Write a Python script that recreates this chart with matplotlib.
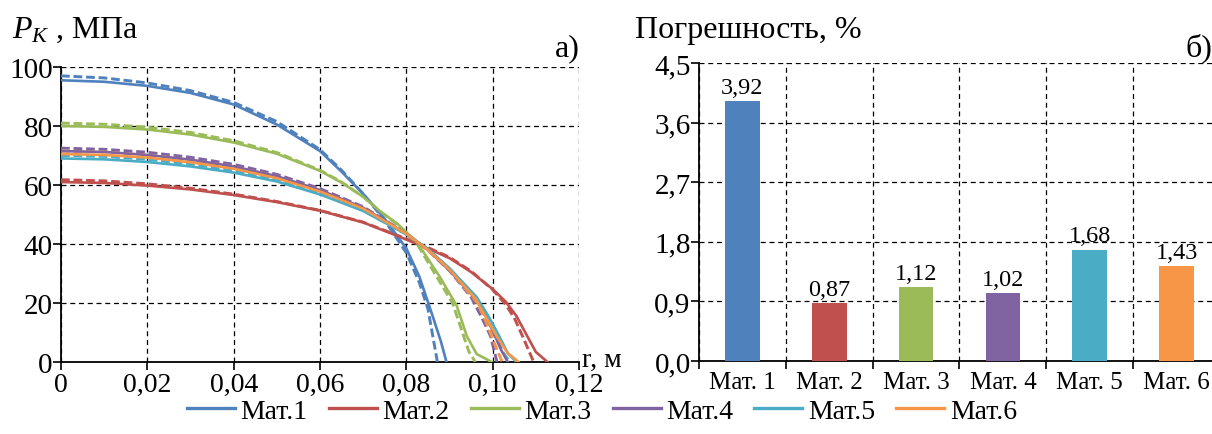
import matplotlib
matplotlib.use("Agg")
import matplotlib.pyplot as plt
from matplotlib.lines import Line2D

plt.rcParams['font.family'] = ['Liberation Serif', 'DejaVu Serif']
plt.rcParams['mathtext.fontset'] = 'custom'
plt.rcParams['mathtext.rm'] = 'Liberation Serif'
plt.rcParams['mathtext.it'] = 'Liberation Serif:italic'

# ---------------- data: contact pressure curves (solid = model, dashed = check) ----------
m1_r  = [0, 0.01, 0.02, 0.03, 0.04, 0.05, 0.06, 0.065, 0.07, 0.075, 0.08, 0.083, 0.086, 0.088, 0.0893]
m1_p  = [95.5, 95.0, 93.6, 91.2, 87.3, 80.5, 71.5, 64.5, 57, 48.5, 38.5, 29, 16, 7, 0]
m1d_r = [0, 0.01, 0.02, 0.03, 0.04, 0.05, 0.06, 0.065, 0.07, 0.075, 0.08, 0.083, 0.085, 0.0872]
m1d_p = [97, 96.3, 94.6, 92, 88, 81.5, 72, 65, 57, 48, 37, 27, 18, 0]

m2_r  = [0, 0.01, 0.02, 0.03, 0.04, 0.05, 0.06, 0.07, 0.078, 0.085, 0.09, 0.095, 0.10, 0.103, 0.1055, 0.108, 0.110, 0.1127]
m2_p  = [61, 60.7, 59.8, 58.5, 56.6, 54.2, 51.3, 47.3, 42.7, 38.5, 35.2, 30.5, 24.7, 20.5, 15.6, 8.8, 3.4, 0]
m2d_r = [0, 0.01, 0.02, 0.03, 0.04, 0.05, 0.06, 0.07, 0.078, 0.085, 0.09, 0.095, 0.10, 0.103, 0.105, 0.107, 0.1095]
m2d_p = [61.8, 61.4, 60.4, 58.9, 56.9, 54.4, 51.4, 47.4, 42.9, 38.8, 35.5, 30.8, 24.5, 19.5, 15.0, 8.5, 0]

m3_r  = [0, 0.01, 0.02, 0.03, 0.04, 0.05, 0.06, 0.065, 0.07, 0.074, 0.078, 0.0825, 0.0877, 0.0917, 0.094, 0.0963, 0.0998]
m3_p  = [80, 79.7, 78.8, 77.1, 74.4, 70.6, 64.8, 60.8, 56, 51, 46.8, 40.5, 29, 19, 8.8, 2.7, 0]
m3d_r = [0, 0.01, 0.02, 0.03, 0.04, 0.05, 0.06, 0.065, 0.07, 0.074, 0.078, 0.0825, 0.087, 0.0907, 0.093, 0.0945, 0.096]
m3d_p = [81, 80.6, 79.6, 77.8, 75, 71, 65, 61, 56, 51, 46.5, 40, 29, 20, 10, 3.5, 0]

m4_r  = [0, 0.01, 0.02, 0.03, 0.04, 0.05, 0.06, 0.07, 0.08, 0.085, 0.09, 0.0963, 0.0986, 0.1005, 0.102, 0.1035]
m4_p  = [71.5, 71.2, 70.2, 68.6, 66.3, 63, 58.3, 52.3, 43.5, 38, 31, 21, 15, 9, 4, 0]
m4d_r = [0, 0.01, 0.02, 0.03, 0.04, 0.05, 0.06, 0.07, 0.08, 0.085, 0.09, 0.095, 0.0975, 0.0995, 0.101]
m4d_p = [72.5, 72.1, 71.1, 69.4, 67, 63.6, 58.8, 52.6, 43.6, 38, 31, 22, 15, 8.8, 0]

m5_r  = [0, 0.01, 0.02, 0.03, 0.04, 0.05, 0.06, 0.07, 0.08, 0.085, 0.09, 0.0963, 0.099, 0.1015, 0.1035, 0.1055]
m5_p  = [69, 68.7, 67.8, 66.3, 64.2, 61.2, 56.8, 51.2, 43.3, 38.3, 31.8, 22, 15.6, 8.8, 3, 0]
m5d_r = [0, 0.01, 0.02, 0.03, 0.04, 0.05, 0.06, 0.07, 0.08, 0.085, 0.09, 0.0963, 0.0985, 0.1005, 0.1025, 0.104]
m5d_p = [70, 69.7, 68.7, 67.1, 64.9, 61.8, 57.2, 51.4, 43.3, 38.2, 31.5, 21.5, 15, 9, 3, 0]

m6_r  = [0, 0.01, 0.02, 0.03, 0.04, 0.05, 0.06, 0.07, 0.08, 0.085, 0.09, 0.096, 0.0985, 0.101, 0.1035, 0.106]
m6_p  = [70.5, 70.2, 69.3, 67.7, 65.5, 62.3, 57.8, 52, 43.5, 38, 31.3, 21.5, 15, 8.5, 3, 0]
m6d_r = [0, 0.01, 0.02, 0.03, 0.04, 0.05, 0.06, 0.07, 0.08, 0.085, 0.09, 0.0965, 0.0985, 0.1005, 0.1022]
m6d_p = [71.5, 71.2, 70.2, 68.5, 66.2, 62.9, 58.2, 52.2, 43.5, 37.8, 31, 20, 13.5, 6, 0]

series_labels = ['Мат.1', 'Мат.2', 'Мат.3', 'Мат.4', 'Мат.5', 'Мат.6']
colors = ['#4F81BD', '#C0504D', '#9BBB59', '#8064A2', '#4BACC6', '#F79646']

x_ticks = [0, 0.02, 0.04, 0.06, 0.08, 0.10, 0.12]
x_tick_labels = ['0', '0,02', '0,04', '0,06', '0,08', '0,10', '0,12']
y_ticks = [0, 20, 40, 60, 80, 100]

# ---------------- data: error bars ----------
bar_categories = ['Мат. 1', 'Мат. 2', 'Мат. 3', 'Мат. 4', 'Мат. 5', 'Мат. 6']
bar_values = [3.92, 0.87, 1.12, 1.02, 1.68, 1.43]
bar_labels = ['3,92', '0,87', '1,12', '1,02', '1,68', '1,43']
err_ticks = [0.0, 0.9, 1.8, 2.7, 3.6, 4.5]
err_tick_labels = ['0,0', '0,9', '1,8', '2,7', '3,6', '4,5']

W, H = 1212, 435
fig = plt.figure(figsize=(W / 100, H / 100), dpi=100)

grid_kw = dict(color='black', linestyle=(0, (4, 3)), linewidth=0.9)

# ---------------- left panel ----------
axl = fig.add_axes([61 / W, 1 - 363 / H, (579 - 61) / W, (363 - 68) / H])
solid = [(m1_r, m1_p), (m2_r, m2_p), (m3_r, m3_p), (m4_r, m4_p), (m5_r, m5_p), (m6_r, m6_p)]
dashed = [(m1d_r, m1d_p), (m2d_r, m2d_p), (m3d_r, m3d_p), (m4d_r, m4d_p), (m5d_r, m5d_p), (m6d_r, m6d_p)]
for (r, p), c in zip(dashed, colors):
    axl.plot(r, p, color=c, linewidth=2.1, linestyle=(0, (3.0, 1.3)), zorder=3)
for (r, p), c in zip(solid, colors):
    axl.plot(r, p, color=c, linewidth=1.9, zorder=4)
axl.set_xlim(0, 0.12)
axl.set_ylim(0, 100)
axl.set_xticks(x_ticks)
axl.set_xticklabels(x_tick_labels)
axl.set_yticks(y_ticks)
axl.grid(True, **grid_kw)
axl.set_axisbelow(True)
for s in ['top', 'right']:
    axl.spines[s].set_visible(False)
for s in ['left', 'bottom']:
    axl.spines[s].set_linewidth(1.3)
axl.tick_params(axis='x', direction='out', length=6, width=1.2, labelsize=20, pad=1)
axl.tick_params(axis='y', direction='out', length=6, width=1.2, labelsize=21, pad=0)

fig.text(12 / W, 1 - 38 / H, r'$P_{\mathit{K}}$ , МПа', fontsize=23, ha='left', va='baseline')
fig.text(580 / W, 1 - 56 / H, 'а)', fontsize=23, ha='right', va='baseline')
fig.text(582 / W, 1 - 367 / H, 'r, м', fontsize=20, ha='left', va='baseline')

# ---------------- right panel ----------
axr = fig.add_axes([699 / W, 1 - 362 / H, (1220 - 699) / W, (362 - 64) / H])
pos = [i + 0.5 for i in range(len(bar_values))]
axr.bar(pos, bar_values, width=0.4, color=colors, zorder=3)
for x, v, t in zip(pos, bar_values, bar_labels):
    axr.text(x, v + 0.05, t, ha='center', va='bottom', fontsize=17.5)
axr.set_xlim(0, 6)
axr.set_ylim(0, 4.5)
axr.set_yticks(err_ticks)
axr.set_yticklabels(err_tick_labels)
axr.set_xticks(range(7))
axr.set_xticklabels([])
axr.set_xticks(pos, minor=True)
axr.set_xticklabels(bar_categories, minor=True)
axr.tick_params(axis='x', which='minor', length=0, labelsize=18, pad=7)
axr.tick_params(axis='x', which='major', direction='out', length=6, width=1.2)
axr.tick_params(axis='y', direction='out', length=6, width=1.2, labelsize=21, pad=0)
axr.grid(True, which='major', **grid_kw)
axr.set_axisbelow(True)
for s in ['top', 'right']:
    axr.spines[s].set_visible(False)
for s in ['left', 'bottom']:
    axr.spines[s].set_linewidth(1.3)

fig.text(635 / W, 1 - 38 / H, 'Погрешность, %', fontsize=23, ha='left', va='baseline')
fig.text(1212 / W, 1 - 56 / H, 'б)', fontsize=23, ha='right', va='baseline')

# ---------------- legend ----------
handles = [Line2D([0], [0], color=c, linewidth=2.4) for c in colors]
fig.legend(handles, series_labels, loc='center', bbox_to_anchor=(602 / W, 1 - 412 / H),
           ncol=6, frameon=False, fontsize=20, handlelength=1.73, handletextpad=0.2,
           columnspacing=0.76, borderaxespad=0, borderpad=0)

fig.savefig('out.png', dpi=100)
